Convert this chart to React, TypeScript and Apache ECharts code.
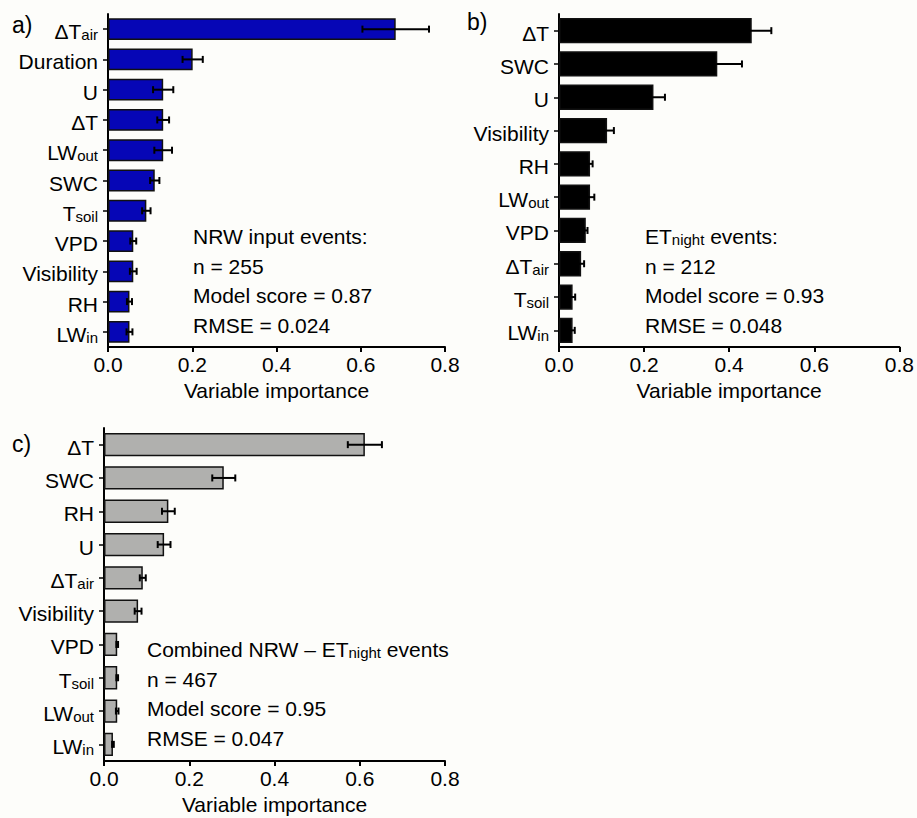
import React, { useEffect, useRef } from "react";
import * as echarts from "echarts";

// Variable importance of predictors for three event classes.
// Category names use "_" to mark a subscript part, e.g. "ΔT_air".

const catsA = ["ΔT_air", "Duration", "U", "ΔT", "LW_out", "SWC", "T_soil", "VPD", "Visibility", "RH", "LW_in"];
const valsA = [0.683, 0.201, 0.131, 0.131, 0.131, 0.111, 0.091, 0.06, 0.06, 0.051, 0.051];
const errsA = [0.079, 0.024, 0.024, 0.014, 0.021, 0.011, 0.01, 0.007, 0.008, 0.006, 0.007];

const catsB = ["ΔT", "SWC", "U", "Visibility", "RH", "LW_out", "VPD", "ΔT_air", "T_soil", "LW_in"];
const valsB = [0.453, 0.372, 0.222, 0.113, 0.073, 0.073, 0.063, 0.052, 0.032, 0.032];
const errsB = [0.046, 0.058, 0.027, 0.016, 0.006, 0.01, 0.004, 0.007, 0.006, 0.005];

const catsC = ["ΔT", "SWC", "RH", "U", "ΔT_air", "Visibility", "VPD", "T_soil", "LW_out", "LW_in"];
const valsC = [0.612, 0.281, 0.151, 0.141, 0.091, 0.08, 0.031, 0.031, 0.031, 0.021];
const errsC = [0.04, 0.027, 0.015, 0.015, 0.007, 0.008, 0.002, 0.002, 0.003, 0.002];

const xTicks = [0, 0.2, 0.4, 0.6, 0.8];

const notesA = ["NRW input events:", "n = 255", "Model score = 0.87", "RMSE = 0.024"];
const notesB = ["ET_night events:", "n = 212", "Model score = 0.93", "RMSE = 0.048"];
const notesC = ["Combined NRW – ET_night events", "n = 467", "Model score = 0.95", "RMSE = 0.047"];

const FONT = '"Liberation Sans", Arial, Helvetica, sans-serif';
const FS = 21;

const rich = {
  m: { fontSize: FS, fontFamily: FONT, color: "#000", lineHeight: 26, verticalAlign: "bottom" },
  s: { fontSize: 15, fontFamily: FONT, color: "#000", lineHeight: 9, verticalAlign: "bottom" },
};

// "ΔT_air" -> "{m|ΔT}{s|air}"; plain text becomes "{m|...}"
function toRich(label: string): string {
  return label
    .split(/(_[a-z]+)/)
    .filter((p) => p.length > 0)
    .map((p) => (p.startsWith("_") ? `{s|${p.slice(1)}}` : `{m|${p}}`))
    .join("");
}

const panels = [
  { cats: catsA, vals: valsA, errs: errsA, color: "#0606b6", grid: { left: 108, top: 14, width: 337, height: 333 }, bar: "72%" },
  { cats: catsB, vals: valsB, errs: errsB, color: "#000000", grid: { left: 559, top: 14, width: 341, height: 333 }, bar: "76%" },
  { cats: catsC, vals: valsC, errs: errsC, color: "#b0b0ae", grid: { left: 104, top: 428, width: 341, height: 333 }, bar: "70%" },
];

function buildOption() {
  const grids = panels.map((p) => ({ ...p.grid, containLabel: false }));
  const xAxes = panels.map((_, i) => ({
    type: "value",
    gridIndex: i,
    min: xTicks[0],
    max: xTicks[xTicks.length - 1],
    interval: 0.2,
    name: "Variable importance",
    nameLocation: "middle",
    nameGap: 33,
    nameTextStyle: { fontSize: FS, fontFamily: FONT, color: "#000" },
    axisLine: { show: true, lineStyle: { color: "#000", width: 2 } },
    axisTick: { show: true, inside: false, length: 5, lineStyle: { color: "#000", width: 2 } },
    axisLabel: {
      margin: 7,
      fontSize: FS,
      fontFamily: FONT,
      color: "#000",
      formatter: (v: number) => v.toFixed(1),
    },
    splitLine: { show: false },
  }));
  const yAxes = panels.map((p, i) => ({
    type: "category",
    gridIndex: i,
    data: p.cats,
    inverse: true,
    axisLine: { show: true, onZero: false, lineStyle: { color: "#000", width: 2 } },
    axisTick: { show: true, alignWithLabel: true, length: 5, lineStyle: { color: "#000", width: 1.5 } },
    axisLabel: {
      margin: 10,
      formatter: (v: string) => toRich(v),
      rich,
    },
    splitLine: { show: false },
  }));

  const series: any[] = [];
  panels.forEach((p, i) => {
    series.push({
      type: "bar",
      xAxisIndex: i,
      yAxisIndex: i,
      data: p.vals,
      barWidth: p.bar,
      itemStyle: { color: p.color, borderColor: "#111", borderWidth: 1.5 },
      z: 2,
    });
    series.push({
      type: "custom",
      xAxisIndex: i,
      yAxisIndex: i,
      data: p.vals.map((v, k) => [v, k, p.errs[k]]),
      encode: { x: 0, y: 1 },
      z: 5,
      renderItem: (_params: any, api: any) => {
        const v = api.value(0);
        const c = api.value(1);
        const e = api.value(2);
        const a = api.coord([v - e, c]);
        const b = api.coord([v + e, c]);
        const h = 3.5;
        const style = { stroke: "#000", lineWidth: 2 };
        return {
          type: "group",
          children: [
            { type: "line", shape: { x1: a[0], y1: a[1], x2: b[0], y2: b[1] }, style },
            { type: "line", shape: { x1: a[0], y1: a[1] - h, x2: a[0], y2: a[1] + h }, style },
            { type: "line", shape: { x1: b[0], y1: b[1] - h, x2: b[0], y2: b[1] + h }, style },
          ],
        };
      },
    });
  });

  const noteBlocks = [
    { lines: notesA, x: 193, y: 234 },
    { lines: notesB, x: 645, y: 234 },
    { lines: notesC, x: 147, y: 647 },
  ];
  const graphics: any[] = [];
  noteBlocks.forEach((blk) => {
    blk.lines.forEach((line, k) => {
      graphics.push({
        type: "text",
        x: blk.x,
        y: blk.y + k * 29.5,
        style: {
          text: toRich(line),
          rich,
          align: "left",
          verticalAlign: "middle",
        },
      });
    });
  });
  const tags = [
    { t: "a)", x: 12, y: 25 },
    { t: "b)", x: 467, y: 22 },
    { t: "c)", x: 12, y: 444 },
  ];
  tags.forEach((tg) => {
    graphics.push({
      type: "text",
      x: tg.x,
      y: tg.y,
      style: { text: tg.t, fontSize: 23, fontFamily: FONT, fill: "#000", align: "left", verticalAlign: "middle" },
    });
  });

  return {
    animation: false,
    backgroundColor: "#fdfdfa",
    grid: grids,
    xAxis: xAxes,
    yAxis: yAxes,
    series,
    graphic: graphics,
  };
}

export default function App() {
  const ref = useRef<HTMLDivElement>(null);
  useEffect(() => {
    if (!ref.current) return;
    const chart = echarts.init(ref.current, null, { renderer: "svg" });
    chart.setOption(buildOption() as any);
    return () => chart.dispose();
  }, []);
  return (
    <div
      ref={ref}
      style={{ position: "fixed", left: 0, top: 0, width: 917, height: 818, background: "#fdfdfa" }}
    />
  );
}
